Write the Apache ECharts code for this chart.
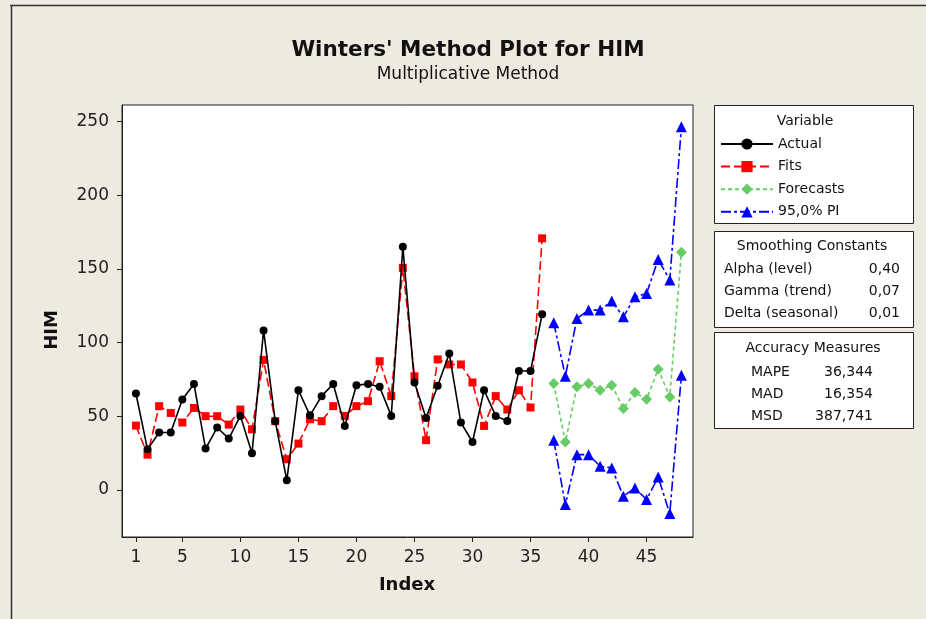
<!DOCTYPE html>
<html>
<head>
<meta charset="utf-8">
<script src="https://cdn.jsdelivr.net/npm/echarts@6/dist/echarts.min.js"></script>
<style>
html, body { margin: 0; padding: 0; background: #EEEAE0; }
#chart { width: 926px; height: 619px; }
</style>
</head>
<body>
<div id="chart"></div>
<script>
// values
var actual = [65.5, 27.6, 39.0, 39.0, 61.4, 72.0, 28.1, 42.4, 34.9, 50.3, 24.9, 108.3,
  46.7, 6.6, 67.7, 50.7, 63.7, 72.0, 43.5, 71.1, 72.0, 70.0, 50.3, 165.1,
  73.0, 48.9, 70.7, 92.6, 45.8, 32.6, 67.7, 50.3, 46.9, 80.8, 80.8, 119.2];
var fits = [43.7, 24.0, 56.9, 52.3, 45.8, 55.7, 50.1, 50.1, 44.4, 54.6, 41.2, 88.3,
  46.7, 20.9, 31.5, 48.0, 46.7, 56.9, 50.3, 56.9, 60.3, 87.4, 63.7, 150.8,
  77.2, 33.8, 88.6, 85.2, 85.2, 73.0, 43.5, 63.7, 54.6, 67.7, 56.0, 170.8];
var forecastStart = 37;
var forecasts = [72.3, 32.6, 70.0, 72.3, 67.7, 71.1, 55.3, 66.2, 61.6, 82.0, 63.2, 161.3];
var piUpper = [113.5, 77.2, 116.4, 122.1, 122.1, 128.2, 117.5, 131.1, 133.4, 156.5, 142.5, 246.6];
var piLower = [33.8, -9.9, 24.0, 24.0, 16.1, 15.0, -4.3, 1.4, -6.5, 8.8, -16.0, 77.9];

var xTicks = [1, 5, 10, 15, 20, 25, 30, 35, 40, 45];
var yTicks = [0, 50, 100, 150, 200, 250];

var legendNames = ['Actual', 'Fits', 'Forecasts', '95,0% PI'];
var smoothLabels = ['Alpha (level)', 'Gamma (trend)', 'Delta (seasonal)'];
var smoothValues = ['0,40', '0,07', '0,01'];
var accLabels = ['MAPE', 'MAD', 'MSD'];
var accValues = ['36,344', '16,354', '387,741'];

function pts(vals, start) {
  return vals.map(function (v, i) { return [start + i, v]; });
}

var FONT = '"DejaVu Sans", Verdana, sans-serif';
var chart = echarts.init(document.getElementById('chart'));

var graphics = [
  // outer frame
  { type: 'line', shape: { x1: 10, y1: 5.5, x2: 926, y2: 5.5 }, style: { stroke: '#333', lineWidth: 1.5 } },
  { type: 'line', shape: { x1: 11.5, y1: 5, x2: 11.5, y2: 619 }, style: { stroke: '#333', lineWidth: 1.5 } },
  // titles
  { type: 'text', style: { text: "Winters' Method Plot for HIM", x: 468, y: 50, textAlign: 'center', textVerticalAlign: 'middle', font: 'bold 21.5px ' + FONT, fill: '#111' } },
  { type: 'text', style: { text: 'Multiplicative Method', x: 468, y: 75, textAlign: 'center', textVerticalAlign: 'middle', font: '17px ' + FONT, fill: '#111' } },
  // axis names
  { type: 'text', style: { text: 'Index', x: 407, y: 585, textAlign: 'center', textVerticalAlign: 'middle', font: 'bold 18px ' + FONT, fill: '#111' } },
  { type: 'text', rotation: Math.PI / 2, x: 52, y: 330, style: { text: 'HIM', x: 0, y: 0, textAlign: 'center', textVerticalAlign: 'middle', font: 'bold 18px ' + FONT, fill: '#111' } },
  // boxes
  { type: 'rect', shape: { x: 714.5, y: 105.5, width: 199, height: 118 }, style: { fill: '#fff', stroke: '#222', lineWidth: 1 } },
  { type: 'text', style: { text: 'Variable', x: 805, y: 121, textAlign: 'center', textVerticalAlign: 'middle', font: '14px ' + FONT, fill: '#111' } },
  { type: 'rect', shape: { x: 714.5, y: 231.5, width: 199, height: 96 }, style: { fill: '#fff', stroke: '#222', lineWidth: 1 } },
  { type: 'text', style: { text: 'Smoothing Constants', x: 812, y: 246, textAlign: 'center', textVerticalAlign: 'middle', font: '14px ' + FONT, fill: '#111' } },
  { type: 'rect', shape: { x: 714.5, y: 332.5, width: 199, height: 96 }, style: { fill: '#fff', stroke: '#222', lineWidth: 1 } },
  { type: 'text', style: { text: 'Accuracy Measures', x: 813, y: 348, textAlign: 'center', textVerticalAlign: 'middle', font: '14px ' + FONT, fill: '#111' } }
];
smoothLabels.forEach(function (s, i) {
  graphics.push({ type: 'text', style: { text: s, x: 724, y: 269 + i * 22, textAlign: 'left', textVerticalAlign: 'middle', font: '14px ' + FONT, fill: '#111' } });
  graphics.push({ type: 'text', style: { text: smoothValues[i], x: 900, y: 269 + i * 22, textAlign: 'right', textVerticalAlign: 'middle', font: '14px ' + FONT, fill: '#111' } });
});
accLabels.forEach(function (s, i) {
  graphics.push({ type: 'text', style: { text: s, x: 751, y: 372 + i * 22, textAlign: 'left', textVerticalAlign: 'middle', font: '14px ' + FONT, fill: '#111' } });
  graphics.push({ type: 'text', style: { text: accValues[i], x: 873, y: 372 + i * 22, textAlign: 'right', textVerticalAlign: 'middle', font: '14px ' + FONT, fill: '#111' } });
});

var option = {
  animation: false,
  backgroundColor: '#EEEAE0',
  graphic: graphics,
  grid: {
    left: 122, top: 105, width: 571, height: 432,
    show: true, backgroundColor: '#fff', borderColor: '#222', borderWidth: 1,
    outerBoundsMode: 'none'
  },
  legend: {
    data: legendNames,
    orient: 'vertical',
    left: 720, top: 137,
    padding: 0,
    itemWidth: 52, itemHeight: 14, itemGap: 8.6,
    textStyle: { fontFamily: FONT, fontSize: 14, color: '#111' },
    selectedMode: false,
    z: 10
  },
  xAxis: {
    type: 'value', min: -0.2, max: 49,
    splitLine: { show: false },
    axisLine: { show: true, onZero: false, lineStyle: { color: '#222', width: 1 } },
    axisTick: { show: true, length: 5, customValues: xTicks, lineStyle: { color: '#222' } },
    axisLabel: { customValues: xTicks, margin: 12, fontFamily: FONT, fontSize: 17, color: '#222' }
  },
  yAxis: {
    type: 'value', min: -31.9, max: 261.3,
    splitLine: { show: false },
    axisLine: { show: true, onZero: false, lineStyle: { color: '#222', width: 1 } },
    axisTick: { show: true, length: 5, customValues: yTicks, lineStyle: { color: '#222' } },
    axisLabel: { customValues: yTicks, margin: 13, fontFamily: FONT, fontSize: 17, color: '#222' }
  },
  series: [
    {
      name: 'Fits', type: 'line', data: pts(fits, 1), z: 2,
      symbol: 'rect', symbolSize: 8,
      itemStyle: { color: '#FF0000' },
      lineStyle: { color: '#FF0000', width: 1.6, type: [9, 4] }
    },
    {
      name: 'Actual', type: 'line', data: pts(actual, 1), z: 3,
      symbol: 'circle', symbolSize: 8,
      itemStyle: { color: '#000' },
      lineStyle: { color: '#000', width: 1.6 }
    },
    {
      name: 'Forecasts', type: 'line', data: pts(forecasts, forecastStart), z: 2,
      symbol: 'diamond', symbolSize: 11,
      itemStyle: { color: '#66CC66' },
      lineStyle: { color: '#66CC66', width: 1.6, type: [4, 3] }
    },
    {
      name: '95,0% PI', type: 'line', data: pts(piUpper, forecastStart), z: 2,
      symbol: 'triangle', symbolSize: 11,
      itemStyle: { color: '#0000FF' },
      lineStyle: { color: '#0000FF', width: 1.6, type: [10, 3, 3, 3] }
    },
    {
      name: '95,0% PI', type: 'line', data: pts(piLower, forecastStart), z: 2,
      symbol: 'triangle', symbolSize: 11,
      itemStyle: { color: '#0000FF' },
      lineStyle: { color: '#0000FF', width: 1.6, type: [10, 3, 3, 3] }
    }
  ]
};
chart.setOption(option);
</script>
</body>
</html>
